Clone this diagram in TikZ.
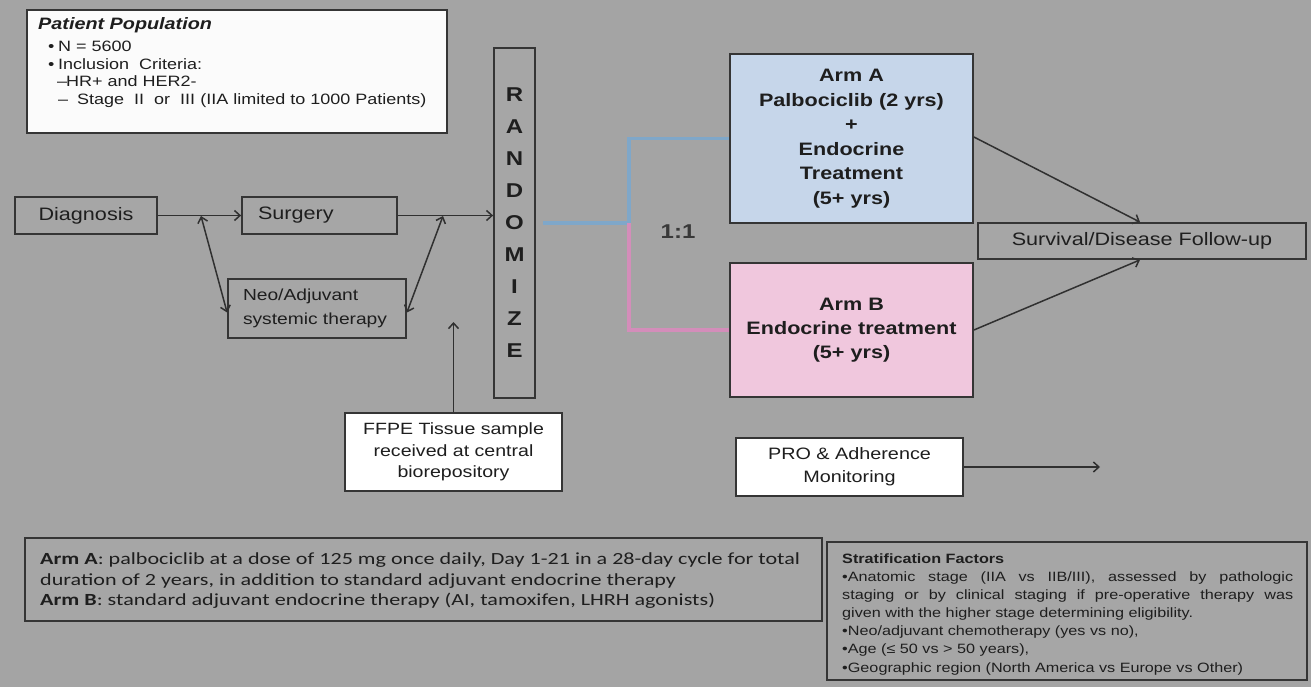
\documentclass[tikz,border=0pt]{standalone}
\usepackage{fontspec}
\setmainfont{Liberation Sans}[FakeStretch=1.2]
\newfontfamily\calibfont{Carlito}[FakeStretch=1.3]
\usetikzlibrary{arrows.meta}
\definecolor{bg}{HTML}{A4A4A4}
\definecolor{boxfill}{HTML}{A6A6A6}
\definecolor{bord}{HTML}{353535}
\definecolor{lin}{HTML}{303030}
\definecolor{txt}{HTML}{1E1E1E}
\definecolor{armAfill}{HTML}{C6D6EA}
\definecolor{armBfill}{HTML}{F0C7DD}
\definecolor{blueline}{HTML}{7FA7C9}
\definecolor{pinkline}{HTML}{D48DBA}
\newcommand{\myfs}[2]{\fontsize{#1}{#2}\selectfont}
\tikzset{
  bx/.style={draw=bord, line width=1.8pt, fill=boxfill, text=txt, inner sep=0pt},
  whitebx/.style={bx, fill=white},
  tip/.tip={Straight Barb[length=5.5pt,width=10pt,line width=1.5pt]},
  arr/.style={draw=lin, line width=1.5pt, -tip},
  darr/.style={draw=lin, line width=1.5pt, tip-tip},
  colline/.style={line width=3.2pt},
  lbl/.style={inner sep=0pt, text=txt, anchor=base west},
}
\begin{document}
\begin{tikzpicture}[x=1pt,y=-1pt]
\useasboundingbox (0,0) rectangle (1311,687);
\fill[bg] (0,0) rectangle (1311,687);

% Patient population
\node[whitebx, fill=white!97!gray, minimum width=420pt, minimum height=123pt] (pop) at (237,71.5) {};
\node[lbl, font=\myfs{16.5}{18}\bfseries\itshape] (p1) at (38,30) {Patient Population};
\node[lbl, font=\myfs{15}{18}] (p2) at (38,52) {\hspace*{10pt}\makebox[10pt][l]{•}N = 5600};
\node[lbl, font=\myfs{15}{18}] (p3) at (38,70) {\hspace*{10pt}\makebox[10pt][l]{•}Inclusion\ \ Criteria:};
\node[lbl, font=\myfs{15}{18}] (p4) at (38,87) {\hspace*{19pt}\makebox[9pt][l]{–}HR+ and HER2-};
\node[lbl, font=\myfs{15}{18}] (p5) at (38,105) {\hspace*{20pt}\makebox[19pt][l]{–}Stage\ \ II\ \ or\ \ III\ (IIA\ limited\ to\ 1000\ Patients)};

% left flow
\node[bx, minimum width=142pt, minimum height=37pt, font=\myfs{18}{22}] (diag) at (86,215.5) {Diagnosis};
\node[bx, minimum width=155pt, minimum height=37pt, inner xsep=16pt, text width=123pt, align=left, font=\myfs{18}{22}] (surg) at (319.5,215.5) {Surgery};
\node[bx, minimum width=178pt, minimum height=59pt, inner xsep=6pt, text width=166pt, align=left, font=\myfs{16}{24}] (neo) at (317,308.5) {\hspace*{9pt}Neo/Adjuvant\\\hspace*{9pt}systemic therapy};
\node[bx, minimum width=41pt, minimum height=350pt, align=center, font=\myfs{20}{32}\bfseries] (rand) at (514.5,223) {R\\A\\N\\D\\O\\M\\I\\Z\\E};
\node[whitebx, minimum width=217pt, minimum height=78pt, align=center, font=\myfs{16.3}{21.5}] (ffpe) at (453.5,452) {FFPE Tissue sample\\received at central\\biorepository};

\coordinate (j1) at (201,216);
\coordinate (j2) at (443,216);
\coordinate (ffpetip) at (453.5,322);
\draw[arr] (diag.east) -- (surg.west);
\draw[arr] (surg.east) -- (rand.west |- surg.east);
\draw[darr] (j1) -- ([yshift=-4pt]neo.west);
\draw[darr] (j2) -- ([yshift=-4pt]neo.east);
\draw[arr] (ffpe.north) -- (ffpetip);

% arms
\node[bx, fill=armAfill, minimum width=243pt, minimum height=169pt, align=center, font=\myfs{18}{24.5}\bfseries] (armA) at (851.5,138.5) {Arm A\\Palbociclib (2 yrs)\\+\\Endocrine\\Treatment\\(5+ yrs)};
\node[bx, fill=armBfill, minimum width=243pt, minimum height=134pt, align=center, font=\myfs{18}{24}\bfseries] (armB) at (851.5,330) {Arm B\\Endocrine treatment\\(5+ yrs)};
\node[inner sep=0pt, text=txt!80!bg, font=\myfs{20}{24}\bfseries] (ratio) at (678,232) {1:1};
\coordinate (split) at (629,223);
\draw[colline, draw=blueline] ([xshift=7pt]rand.east) -- (split) |- (armA.west);
\draw[colline, draw=pinkline] (split) |- (armB.west);

\node[bx, minimum width=328pt, minimum height=36pt, font=\myfs{18}{22}] (surv) at (1142,241) {Survival/Disease Follow-up};
\draw[arr] ([yshift=1.5pt]armA.east) -- ([xshift=-2pt]surv.north);
\draw[arr] (armB.east) -- ([xshift=-2pt]surv.south);

\node[whitebx, minimum width=227pt, minimum height=58pt, align=center, font=\myfs{16.5}{23}] (pro) at (849.5,467) {PRO \& Adherence\\Monitoring};
\coordinate (proend) at (1100,467);
\draw[arr] (pro.east) -- (proend);

% bottom left text box
\node[bx, minimum width=797pt, minimum height=83pt] (armtxt) at (423.5,579.5) {};
\node[lbl, font=\calibfont\myfs{17}{20.5}] (a1) at (40,564.5) {\textbf{Arm A}: palbociclib at a dose of 125 mg once daily, Day 1-21 in a 28-day cycle for total};
\node[lbl, font=\calibfont\myfs{17}{20.5}] (a2) at (40,585.5) {duration of 2 years, in addition to standard adjuvant endocrine therapy};
\node[lbl, font=\calibfont\myfs{17}{20.5}] (a3) at (40,605.5) {\textbf{Arm B}: standard adjuvant endocrine therapy (AI, tamoxifen, LHRH agonists)};

% stratification box
\node[bx, minimum width=480pt, minimum height=138pt] (strat) at (1067,611) {};
\node[lbl, font=\myfs{13.5}{18}\bfseries] (s1) at (842,563) {Stratification Factors};
\node[lbl, font=\myfs{13.5}{18}] (s2) at (842,581.5) {\makebox[451pt][s]{•Anatomic stage (IIA vs IIB/III), assessed by pathologic}};
\node[lbl, font=\myfs{13.5}{18}] (s3) at (842,599.5) {\makebox[451pt][s]{staging or by clinical staging if pre-operative therapy was}};
\node[lbl, font=\myfs{13.5}{18}] (s4) at (842,617.5) {given with the higher stage determining eligibility.};
\node[lbl, font=\myfs{13.5}{18}] (s5) at (842,635.5) {•Neo/adjuvant chemotherapy (yes vs no),};
\node[lbl, font=\myfs{13.5}{18}] (s6) at (842,653.5) {•Age (≤ 50 vs > 50 years),};
\node[lbl, font=\myfs{13.5}{18}] (s7) at (842,672) {•Geographic region (North America vs Europe vs Other)};
\end{tikzpicture}
\end{document}
